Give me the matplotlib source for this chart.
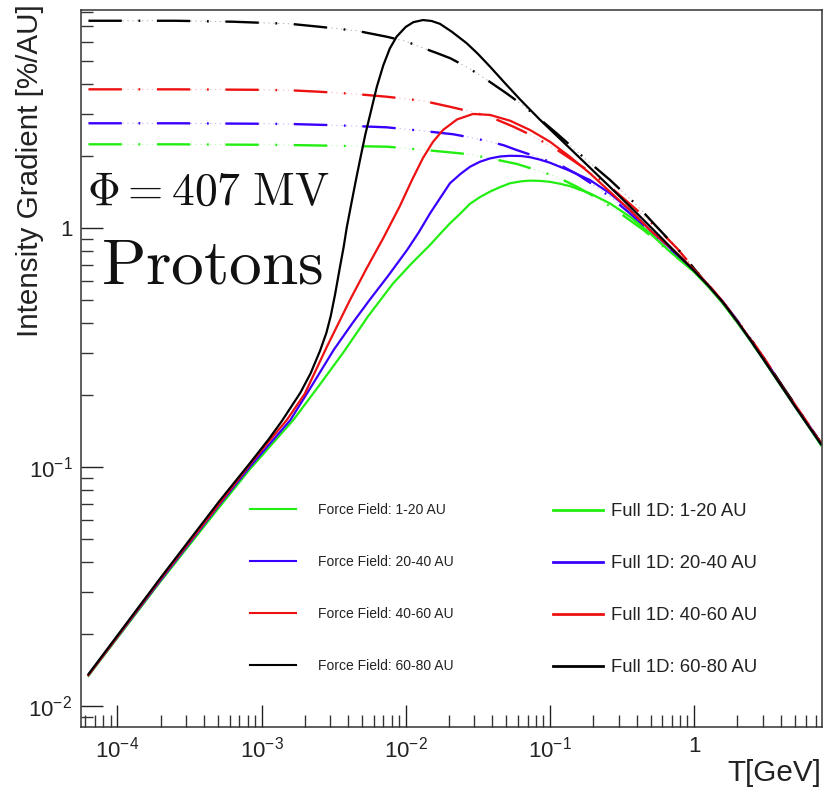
import numpy as np
import matplotlib
matplotlib.use("Agg")
import matplotlib.pyplot as plt
from matplotlib.lines import Line2D
from matplotlib.ticker import FuncFormatter, NullFormatter, LogLocator

plt.rcParams['font.family'] = ['Liberation Sans', 'DejaVu Sans']
plt.rcParams['lines.scale_dashes'] = False

# ---------------- data (log10 of T [GeV] and log10 of gradient [%/AU]) ----------------
ff_green_logT = [-4.2, -3.6, -3.0, -2.8, -2.5, -2.13, -1.88, -1.67, -1.554, -1.415, -1.23, -1.092, -0.953, -0.814, -0.65, -0.5, -0.35, -0.2, 0.0, 0.1, 0.2, 0.3, 0.4, 0.5, 0.6, 0.7, 0.8, 0.88]
ff_green_logY = [0.349, 0.349, 0.347, 0.346, 0.343, 0.339, 0.326, 0.314, 0.307, 0.29, 0.267, 0.241, 0.213, 0.172, 0.116, 0.055, -0.01, -0.085, -0.182, -0.246, -0.316, -0.395, -0.48, -0.568, -0.658, -0.748, -0.835, -0.905]

ff_blue_logT = [-4.2, -3.6, -3.0, -2.8, -2.5, -2.13, -1.88, -1.67, -1.554, -1.415, -1.32, -1.23, -1.092, -0.907, -0.814, -0.70, -0.584, -0.445, -0.3, -0.15, 0.0, 0.1, 0.2, 0.3, 0.4, 0.5, 0.6, 0.7, 0.8, 0.88]
ff_blue_logY = [0.437, 0.437, 0.435, 0.434, 0.429, 0.42, 0.405, 0.391, 0.378, 0.36, 0.345, 0.325, 0.297, 0.255, 0.225, 0.18, 0.13, 0.06, -0.02, -0.1, -0.176, -0.24, -0.31, -0.388, -0.472, -0.56, -0.652, -0.742, -0.83, -0.9]

ff_red_logT = [-4.2, -3.6, -3.0, -2.8, -2.6, -2.34, -2.13, -1.88, -1.693, -1.55, -1.415, -1.254, -1.16, -1.069, -0.96, -0.861, -0.723, -0.584, -0.398, -0.259, -0.12, 0.0, 0.1, 0.2, 0.3, 0.4, 0.5, 0.6, 0.7, 0.8, 0.88]
ff_red_logY = [0.579, 0.579, 0.577, 0.575, 0.569, 0.559, 0.548, 0.531, 0.506, 0.486, 0.464, 0.423, 0.396, 0.367, 0.33, 0.29, 0.234, 0.172, 0.075, 0.0, -0.085, -0.17, -0.238, -0.31, -0.388, -0.47, -0.558, -0.65, -0.74, -0.828, -0.898]

ff_black_logT = [-4.2, -3.6, -3.2, -2.8, -2.6, -2.34, -2.13, -2.0, -1.88, -1.78, -1.69, -1.56, -1.44, -1.3, -1.2, -1.1, -0.953, -0.85, -0.745, -0.583, -0.398, -0.259, -0.086, 0.04, 0.12, 0.2, 0.32, 0.41, 0.5, 0.6, 0.7, 0.8, 0.88]
ff_black_logY = [0.866, 0.866, 0.862, 0.853, 0.841, 0.824, 0.799, 0.78, 0.752, 0.73, 0.709, 0.667, 0.62, 0.562, 0.518, 0.47, 0.395, 0.34, 0.283, 0.2, 0.095, 0.004, -0.107, -0.2, -0.258, -0.318, -0.41, -0.482, -0.56, -0.65, -0.74, -0.83, -0.9]

full_green_logT = [-4.2, -3.7, -3.3, -3.08, -2.78, -2.6, -2.43, -2.26, -2.09, -1.96, -1.831, -1.76, -1.693, -1.62, -1.554, -1.485, -1.415, -1.345, -1.277, -1.2, -1.138, -1.07, -1.0, -0.93, -0.861, -0.723, -0.584, -0.445, -0.306, -0.167, 0.0, 0.1, 0.2, 0.3, 0.4, 0.5, 0.6, 0.7, 0.8, 0.88]
full_green_logY = [-1.875, -1.48, -1.175, -1.01, -0.805, -0.66, -0.52, -0.37, -0.235, -0.15, -0.072, -0.025, 0.018, 0.06, 0.1, 0.128, 0.151, 0.17, 0.186, 0.194, 0.197, 0.196, 0.192, 0.184, 0.174, 0.144, 0.102, 0.046, -0.023, -0.1, -0.185, -0.248, -0.318, -0.397, -0.482, -0.57, -0.66, -0.75, -0.838, -0.91]

full_blue_logT = [-4.2, -3.7, -3.3, -3.08, -2.80, -2.65, -2.50, -2.37, -2.25, -2.12, -1.99, -1.91, -1.831, -1.76, -1.693, -1.62, -1.554, -1.485, -1.415, -1.345, -1.277, -1.2, -1.138, -1.07, -1.0, -0.861, -0.723, -0.584, -0.445, -0.306, -0.167, 0.0, 0.1, 0.2, 0.3, 0.4, 0.5, 0.6, 0.7, 0.8, 0.88]
full_blue_logY = [-1.872, -1.475, -1.165, -1.0, -0.805, -0.66, -0.512, -0.40, -0.302, -0.20, -0.093, -0.02, 0.06, 0.125, 0.186, 0.225, 0.255, 0.276, 0.29, 0.298, 0.301, 0.3, 0.295, 0.285, 0.272, 0.238, 0.2, 0.144, 0.074, -0.01, -0.085, -0.178, -0.242, -0.312, -0.392, -0.478, -0.567, -0.657, -0.747, -0.835, -0.905]

full_red_logT = [-4.2, -3.7, -3.3, -3.08, -2.95, -2.825, -2.7, -2.548, -2.386, -2.27, -2.155, -2.04, -1.956, -1.88, -1.811, -1.741, -1.644, -1.533, -1.415, -1.277, -1.138, -1.0, -0.861, -0.723, -0.584, -0.445, -0.306, -0.15, 0.0, 0.1, 0.2, 0.3, 0.4, 0.5, 0.6, 0.7, 0.8, 0.88]
full_red_logY = [-1.872, -1.47, -1.16, -0.99, -0.895, -0.805, -0.695, -0.50, -0.302, -0.169, -0.043, 0.091, 0.2, 0.292, 0.359, 0.409, 0.453, 0.476, 0.472, 0.448, 0.409, 0.36, 0.297, 0.228, 0.151, 0.074, -0.01, -0.09, -0.175, -0.24, -0.31, -0.39, -0.475, -0.564, -0.655, -0.745, -0.832, -0.9]

full_black_logT = [-4.2, -3.7, -3.3, -3.08, -2.95, -2.86, -2.73, -2.66, -2.594, -2.55, -2.52, -2.49, -2.456, -2.43, -2.409, -2.374, -2.345, -2.317, -2.28, -2.248, -2.2, -2.155, -2.11, -2.062, -2.0, -1.947, -1.88, -1.82, -1.762, -1.68, -1.577, -1.5, -1.415, -1.31, -1.207, -1.069, -0.93, -0.792, -0.653, -0.514, -0.376, -0.237, -0.1, 0.0, 0.1, 0.2, 0.3, 0.4, 0.5, 0.6, 0.7, 0.8, 0.88]
full_black_logY = [-1.868, -1.465, -1.15, -0.985, -0.885, -0.81, -0.69, -0.61, -0.515, -0.44, -0.37, -0.28, -0.165, -0.08, 0.0, 0.11, 0.20, 0.283, 0.39, 0.47, 0.59, 0.68, 0.75, 0.80, 0.84, 0.86, 0.869, 0.865, 0.853, 0.82, 0.772, 0.728, 0.674, 0.604, 0.537, 0.452, 0.372, 0.292, 0.211, 0.13, 0.048, -0.036, -0.12, -0.18, -0.243, -0.312, -0.392, -0.478, -0.567, -0.657, -0.747, -0.835, -0.905]

ff_labels = ["Force Field: 1-20 AU", "Force Field: 20-40 AU", "Force Field: 40-60 AU", "Force Field: 60-80 AU"]
full_labels = ["Full 1D: 1-20 AU", "Full 1D: 20-40 AU", "Full 1D: 40-60 AU", "Full 1D: 60-80 AU"]
colors = ["#22ee11", "#3a00ff", "#ee1111", "#000000"]

ff_series = [(ff_green_logT, ff_green_logY), (ff_blue_logT, ff_blue_logY),
             (ff_red_logT, ff_red_logY), (ff_black_logT, ff_black_logY)]
full_series = [(full_green_logT, full_green_logY), (full_blue_logT, full_blue_logY),
               (full_red_logT, full_red_logY), (full_black_logT, full_black_logY)]

# ---------------- figure ----------------
W, H = 823, 796
fig = plt.figure(figsize=(W / 100, H / 100), dpi=100)
L, R, T, B = 80.7, 821.5, 10.0, 726.7
ax = fig.add_axes([L / W, 1 - B / H, (R - L) / W, (B - T) / H])
ax.set_xscale('log')
ax.set_yscale('log')

for (lt, ly), c in zip(ff_series, colors):
    x = 10 ** np.asarray(lt)
    y = 10 ** np.asarray(ly)
    ax.plot(x, y, color=c, lw=0.6, ls=(0, (1, 2.5)), alpha=0.35)
    ax.plot(x, y, color=c, lw=1.7, ls=(0, (24, 12, 1.3, 12)))

for (lt, ly), c in zip(full_series, colors):
    ax.plot(10 ** np.asarray(lt), 10 ** np.asarray(ly), color=c, lw=1.6,
            solid_joinstyle='round')

ax.set_xlim(10 ** -4.254, 10 ** 0.884)
ax.set_ylim(10 ** -2.088, 10 ** 0.911)

frame_col = '#333333'
for s in ax.spines.values():
    s.set_color(frame_col)
    s.set_linewidth(1.1)

ax.xaxis.set_major_locator(LogLocator(base=10, numticks=20))
ax.xaxis.set_minor_locator(LogLocator(base=10, subs=np.arange(2, 10), numticks=20))
ax.yaxis.set_major_locator(LogLocator(base=10, numticks=20))
ax.yaxis.set_minor_locator(LogLocator(base=10, subs=np.arange(2, 10), numticks=20))


def fmt(v, pos):
    e = int(round(np.log10(v)))
    if e == 0:
        return '1'
    return r'$\mathdefault{10^{%d}}$' % e


ax.xaxis.set_major_formatter(FuncFormatter(fmt))
ax.yaxis.set_major_formatter(FuncFormatter(fmt))
ax.xaxis.set_minor_formatter(NullFormatter())
ax.yaxis.set_minor_formatter(NullFormatter())
ax.tick_params(which='both', direction='in', top=False, right=False, color=frame_col, width=1.0)
ax.tick_params(which='major', length=15.5, labelsize=16, colors='#222222')
ax.tick_params(which='minor', length=8.5)
ax.tick_params(axis='x', which='major', pad=7)
ax.tick_params(axis='y', which='major', pad=6)

fig.text(30 / W, 1 - 4 / H, "Intensity Gradient [%/AU]", rotation=90, ha='center', va='top',
         fontsize=21.3, color='#222222')
fig.text(821 / W, 1 - 759 / H, "T[GeV]", ha='right', va='top', fontsize=21.3, color='#222222')

ax.text(87 / W, 1 - 205 / H, r'$\Phi = 407\ \mathrm{MV}$', transform=fig.transFigure,
        fontsize=32.8, math_fontfamily='cm', ha='left', va='baseline', color='#111111')
ax.text(101 / W, 1 - 283 / H, r'$\mathrm{Protons}$', transform=fig.transFigure,
        fontsize=47, math_fontfamily='cm', ha='left', va='baseline', color='#111111')

# ---------------- legends ----------------
ff_handles = [Line2D([], [], color=c, lw=1.5) for c in colors]
full_handles = [Line2D([], [], color=c, lw=2.0) for c in colors]
leg1 = ax.legend(ff_handles, ff_labels, loc='upper left', bbox_to_anchor=(250 / W, 1 - 503 / H),
                 bbox_transform=fig.transFigure, frameon=False, fontsize=10,
                 handlelength=3.3, handletextpad=1.6, labelspacing=2.74, borderpad=0,
                 borderaxespad=0)
for t in leg1.get_texts():
    t.set_color('#222222')
ax.add_artist(leg1)
leg2 = ax.legend(full_handles, full_labels, loc='upper left', bbox_to_anchor=(553 / W, 1 - 503 / H),
                 bbox_transform=fig.transFigure, frameon=False, fontsize=13.3,
                 handlelength=2.7, handletextpad=0.45, labelspacing=1.9, borderpad=0,
                 borderaxespad=0)
for t in leg2.get_texts():
    t.set_color('#222222')

fig.savefig('out.png', dpi=100)
